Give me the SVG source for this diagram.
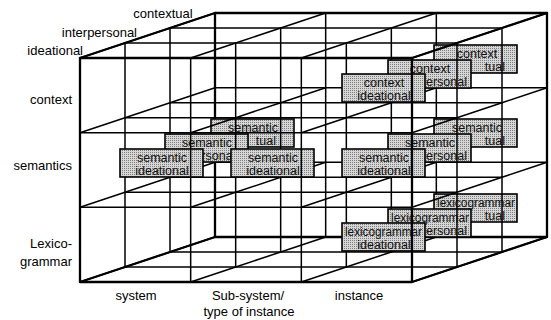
<svg xmlns="http://www.w3.org/2000/svg" width="551" height="320" viewBox="0 0 551 320">
<defs>
<pattern id="stip" width="2" height="2" patternUnits="userSpaceOnUse"><rect width="2" height="2" fill="#d6d6d6"/><rect width="1" height="1" fill="#808080"/></pattern>
</defs>
<style>
.g{fill:none;stroke:#000;stroke-width:1.5;stroke-linecap:round}
.o{fill:none;stroke:#000;stroke-width:2.3;stroke-linecap:round;stroke-linejoin:round}
.bx{fill:url(#stip);stroke:#000;stroke-width:1.6}
.bt{font-family:"Liberation Sans",Arial,sans-serif;font-size:12.5px;fill:#111;text-anchor:middle}
.be{text-anchor:end}
.lb{font-family:"Liberation Sans",Arial,sans-serif;font-size:13px;fill:#000}
.e{text-anchor:end}.m{text-anchor:middle}
</style>
<rect width="551" height="320" fill="#fff"/>

<g id="plane3">
<path class="g" d="M215 13H547M215 87.67H547M215 162.33H547M215 237H547M215 13V237M325.67 13V237M436.33 13V237M547 13V237"/>
<path class="o" d="M215 13H547V237H215Z"/>
</g>
<g id="slab3-lines">
<path class="g" d="M170 28l45 -15M280.67 28l45 -15M391.33 28l45 -15M502 28l45 -15M170 102.67l45 -15M280.67 102.67l45 -15M391.33 102.67l45 -15M502 102.67l45 -15M170 177.33l45 -15M280.67 177.33l45 -15M391.33 177.33l45 -15M502 177.33l45 -15M170 252l45 -15M280.67 252l45 -15M391.33 252l45 -15M502 252l45 -15"/>
<path class="o" d="M170 28l45 -15M502 28l45 -15M170 252l45 -15M502 252l45 -15"/>
</g>
<g id="box-context-contextual"><rect class="bx" x="434" y="45" width="83" height="28"/><text class="bt" x="477" y="57.5">context</text><text class="bt be" x="505" y="71">tual</text></g>
<g id="box-semantic-contextual-instance"><rect class="bx" x="434" y="119" width="83" height="28"/><text class="bt" x="477" y="131.5">semantic</text><text class="bt be" x="505" y="145">tual</text></g>
<g id="box-lexicogrammar-contextual"><rect class="bx" x="434" y="194" width="83" height="28"/><text class="bt" x="476" y="206.5" textLength="78" lengthAdjust="spacingAndGlyphs">lexicogrammar</text><text class="bt be" x="505" y="220">tual</text></g>
<g id="box-semantic-contextual-system"><rect class="bx" x="211" y="119" width="83" height="28"/><text class="bt" x="253" y="131.5">semantic</text><text class="bt be" x="276" y="145">tual</text></g>

<g id="plane2">
<path class="g" d="M170 28H502M170 102.67H502M170 177.33H502M170 252H502M170 28V252M280.67 28V252M391.33 28V252M502 28V252"/>
</g>
<g id="slab2-lines">
<path class="g" d="M125 43l45 -15M235.67 43l45 -15M346.33 43l45 -15M457 43l45 -15M125 117.67l45 -15M235.67 117.67l45 -15M346.33 117.67l45 -15M457 117.67l45 -15M125 192.33l45 -15M235.67 192.33l45 -15M346.33 192.33l45 -15M457 192.33l45 -15M125 267l45 -15M235.67 267l45 -15M346.33 267l45 -15M457 267l45 -15"/>
<path class="o" d="M125 43l45 -15M457 43l45 -15M125 267l45 -15M457 267l45 -15"/>
</g>
<g id="box-context-interpersonal"><rect class="bx" x="388" y="60" width="83" height="28"/><text class="bt" x="430" y="72.5">context</text><text class="bt be" x="467" y="86">ersonal</text></g>
<g id="box-semantic-interpersonal-instance"><rect class="bx" x="388" y="134" width="83" height="28"/><text class="bt" x="430" y="146.5">semantic</text><text class="bt be" x="467" y="160">ersonal</text></g>
<g id="box-lexicogrammar-interpersonal"><rect class="bx" x="388" y="209" width="83" height="28"/><text class="bt" x="430" y="221.5" textLength="78" lengthAdjust="spacingAndGlyphs">lexicogrammar</text><text class="bt be" x="467" y="235">ersonal</text></g>
<g id="box-semantic-interpersonal-system"><rect class="bx" x="165" y="134" width="83" height="28"/><text class="bt" x="207" y="146.5">semantic</text><text class="bt" x="217" y="160">rsona</text></g>

<g id="plane1">
<path class="g" d="M125 43H457M125 117.67H457M125 192.33H457M125 267H457M125 43V267M235.67 43V267M346.33 43V267M457 43V267"/>
</g>
<g id="slab1-lines">
<path class="g" d="M80 58l45 -15M190.67 58l45 -15M301.33 58l45 -15M412 58l45 -15M80 132.67l45 -15M190.67 132.67l45 -15M301.33 132.67l45 -15M412 132.67l45 -15M80 207.33l45 -15M190.67 207.33l45 -15M301.33 207.33l45 -15M412 207.33l45 -15M80 282l45 -15M190.67 282l45 -15M301.33 282l45 -15M412 282l45 -15"/>
<path class="o" d="M80 58l45 -15M412 58l45 -15M80 282l45 -15M412 282l45 -15"/>
</g>
<g id="box-context-ideational"><rect class="bx" x="342" y="74" width="83" height="28"/><text class="bt" x="384" y="86.5">context</text><text class="bt" x="384" y="100">ideational</text></g>
<g id="box-semantic-ideational-instance"><rect class="bx" x="342" y="149" width="83" height="28"/><text class="bt" x="384" y="161.5">semantic</text><text class="bt" x="384" y="175">ideational</text></g>
<g id="box-lexicogrammar-ideational"><rect class="bx" x="342" y="223" width="83" height="28"/><text class="bt" x="383.5" y="235.5" textLength="77" lengthAdjust="spacingAndGlyphs">lexicogrammar</text><text class="bt" x="384" y="249">ideational</text></g>
<g id="box-semantic-ideational-system"><rect class="bx" x="120" y="149" width="83" height="28"/><text class="bt" x="162" y="161.5">semantic</text><text class="bt" x="162" y="175">ideational</text></g>
<g id="box-semantic-ideational-subsystem"><rect class="bx" x="231" y="149" width="83" height="28"/><text class="bt" x="273" y="161.5">semantic</text><text class="bt" x="273" y="175">ideational</text></g>

<g id="plane0">
<path class="g" d="M80 132.67H412M80 207.33H412M190.67 58V282M301.33 58V282"/>
<path class="o" d="M80 58H412V282H80Z"/>
</g>

<g id="labels">
<text class="lb m" x="163" y="18">contextual</text>
<text class="lb e" x="137" y="37">interpersonal</text>
<text class="lb e" x="83" y="55">ideational</text>
<text class="lb e" x="72" y="104">context</text>
<text class="lb e" x="72" y="170">semantics</text>
<text class="lb e" x="72" y="248">Lexico-</text>
<text class="lb e" x="72" y="266">grammar</text>
<text class="lb m" x="136" y="300">system</text>
<text class="lb m" x="248" y="300">Sub-system/</text>
<text class="lb m" x="249" y="316">type of instance</text>
<text class="lb m" x="359" y="300">instance</text>
</g>
</svg>
